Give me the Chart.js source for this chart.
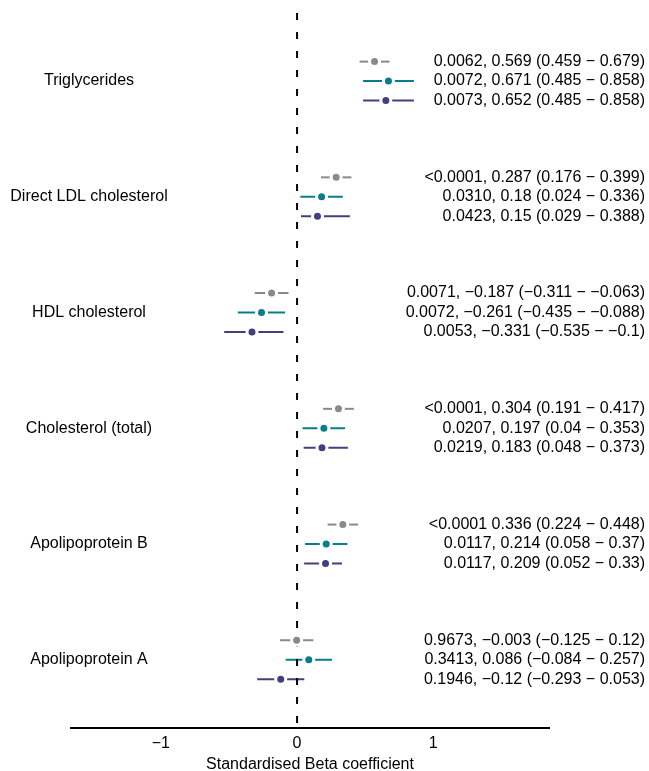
<!DOCTYPE html>
<html>
<head>
<meta charset="utf-8">
<script src="https://cdn.jsdelivr.net/npm/chart.js@4"></script>
<style>
  html, body { margin: 0; padding: 0; background: #fff; }
  #wrap { width: 649px; height: 771px; }
</style>
</head>
<body>
<div id="wrap"><canvas id="forest"></canvas></div>
<script>
// categories, top to bottom
const categories = ['Triglycerides', 'Direct LDL cholesterol', 'HDL cholesterol',
    'Cholesterol (total)', 'Apolipoprotein B', 'Apolipoprotein A'];

// beta estimate and 95% CI per model
const greyBeta   = [0.569, 0.287, -0.187, 0.304, 0.336, -0.003];
const greyLow    = [0.459, 0.176, -0.311, 0.191, 0.224, -0.125];
const greyHigh   = [0.679, 0.399, -0.063, 0.417, 0.448, 0.12];

const tealBeta   = [0.671, 0.18, -0.261, 0.197, 0.214, 0.086];
const tealLow    = [0.485, 0.024, -0.435, 0.04, 0.058, -0.084];
const tealHigh   = [0.858, 0.336, -0.088, 0.353, 0.37, 0.257];

const purpleBeta = [0.652, 0.15, -0.331, 0.183, 0.209, -0.12];
const purpleLow  = [0.485, 0.029, -0.535, 0.048, 0.052, -0.293];
const purpleHigh = [0.858, 0.388, -0.1, 0.373, 0.33, 0.053];

// right-hand annotations: p value, beta (CI)
const greyText = ['0.0062, 0.569 (0.459 \u2212 0.679)', '<0.0001, 0.287 (0.176 \u2212 0.399)',
    '0.0071, \u22120.187 (\u22120.311 \u2212 \u22120.063)', '<0.0001, 0.304 (0.191 \u2212 0.417)',
    '<0.0001 0.336 (0.224 \u2212 0.448)', '0.9673, \u22120.003 (\u22120.125 \u2212 0.12)'];
const tealText = ['0.0072, 0.671 (0.485 \u2212 0.858)', '0.0310, 0.18 (0.024 \u2212 0.336)',
    '0.0072, \u22120.261 (\u22120.435 \u2212 \u22120.088)', '0.0207, 0.197 (0.04 \u2212 0.353)',
    '0.0117, 0.214 (0.058 \u2212 0.37)', '0.3413, 0.086 (\u22120.084 \u2212 0.257)'];
const purpleText = ['0.0073, 0.652 (0.485 \u2212 0.858)', '0.0423, 0.15 (0.029 \u2212 0.388)',
    '0.0053, \u22120.331 (\u22120.535 \u2212 \u22120.1)', '0.0219, 0.183 (0.048 \u2212 0.373)',
    '0.0117, 0.209 (0.052 \u2212 0.33)', '0.1946, \u22120.12 (\u22120.293 \u2212 0.053)'];

const xTicks = [-1, 0, 1];

const colors = { grey: '#8a8a8a', teal: '#0b7c8a', purple: '#40407f' };
const FONT = '"Liberation Sans", Arial, sans-serif';
const rowOffset = 0.168;

function buildSeries(beta, low, high, text, offset) {
    return beta.map((b, i) => ({ x: b, y: i + offset, lo: low[i], hi: high[i], label: text[i] }));
}

function series(label, color, data) {
    return {
        label: label,
        data: data,
        backgroundColor: color,
        borderColor: '#ffffff',
        pointRadius: 5,
        pointHoverRadius: 5,
        pointBorderWidth: 3,
        errColor: color
    };
}

// error bars + dashed zero line, drawn under the points
const forestPlugin = {
    id: 'forest',
    beforeDatasetsDraw(chart) {
        const ctx = chart.ctx;
        const xs = chart.scales.x, ys = chart.scales.y;
        const area = chart.chartArea;
        ctx.save();
        chart.data.datasets.forEach(ds => {
            ctx.strokeStyle = ds.errColor;
            ctx.lineWidth = 2;
            ds.data.forEach(d => {
                const y = ys.getPixelForValue(d.y);
                ctx.beginPath();
                ctx.moveTo(xs.getPixelForValue(d.lo), y);
                ctx.lineTo(xs.getPixelForValue(d.hi), y);
                ctx.stroke();
            });
        });
        const x0 = xs.getPixelForValue(0);
        ctx.strokeStyle = '#000';
        ctx.lineWidth = 2;
        ctx.setLineDash([7, 12]);
        ctx.lineDashOffset = 16;
        ctx.beginPath();
        ctx.moveTo(x0, area.top);
        ctx.lineTo(x0, area.bottom);
        ctx.stroke();
        ctx.restore();
    },
    afterDraw(chart) {
        const ctx = chart.ctx;
        const ys = chart.scales.y;
        ctx.save();
        ctx.fillStyle = '#000';
        ctx.font = '16px ' + FONT;
        ctx.textBaseline = 'middle';
        ctx.textAlign = 'center';
        categories.forEach((c, i) => ctx.fillText(c, 89, ys.getPixelForValue(i)));
        ctx.textAlign = 'right';
        chart.data.datasets.forEach(ds => {
            ds.data.forEach(d => ctx.fillText(d.label, 645, ys.getPixelForValue(d.y)));
        });
        ctx.restore();
    }
};

new Chart(document.getElementById('forest'), {
    type: 'scatter',
    data: {
        datasets: [
            series('Model 1', colors.grey, buildSeries(greyBeta, greyLow, greyHigh, greyText, -rowOffset)),
            series('Model 2', colors.teal, buildSeries(tealBeta, tealLow, tealHigh, tealText, 0)),
            series('Model 3', colors.purple, buildSeries(purpleBeta, purpleLow, purpleHigh, purpleText, rowOffset))
        ]
    },
    options: {
        responsive: true,
        maintainAspectRatio: false,
        animation: false,
        layout: { padding: { left: 71, right: 100, top: 10, bottom: -1.5 } },
        plugins: { legend: { display: false }, tooltip: { enabled: false } },
        scales: {
            x: {
                min: -1.66,
                max: 1.85,
                afterBuildTicks: axis => { axis.ticks = xTicks.map(v => ({ value: v })); },
                grid: { display: false, drawTicks: false },
                border: { display: true, color: '#000', width: 2 },
                ticks: {
                    color: '#000',
                    padding: 6,
                    font: { family: FONT, size: 16 },
                    callback: v => String(v).replace('-', '\u2212')
                },
                title: {
                    display: true,
                    text: 'Standardised Beta coefficient',
                    color: '#000',
                    padding: { top: -2.5, bottom: 0 },
                    font: { family: FONT, size: 16, lineHeight: 1 }
                }
            },
            y: {
                display: false,
                reverse: true,
                min: -0.614,
                max: 5.588
            }
        }
    },
    plugins: [forestPlugin]
});
</script>
</body>
</html>
